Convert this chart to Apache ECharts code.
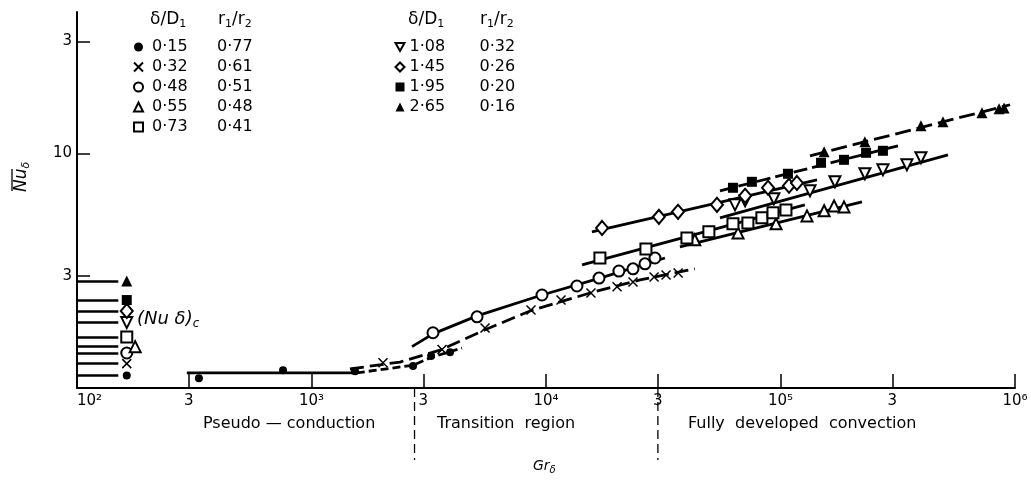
<!DOCTYPE html>
<html><head><meta charset="utf-8">
<script src="https://cdn.jsdelivr.net/npm/echarts@6/dist/echarts.min.js"></script>
<style>html,body{margin:0;padding:0;background:#fff}#c{width:1031px;height:481px}</style>
</head><body><div id="c"></div>
<script>
// ---------- axis ticks ----------
const xTickValues = [100, 300, 1000, 3000, 10000, 30000, 100000, 300000, 1000000];
const xTickLabels = ['10²', '3', '10³', '3', '10⁴', '3', '10⁵', '3', '10⁶'];
const yTickValues = [3, 10, 30];
const yTickLabels = ['3', '10', '3'];

// ---------- legend table ----------
const legendDelta = ['0·15', '0·32', '0·48', '0·55', '0·73', '1·08', '1·45', '1·95', '2·65'];
const legendRatio = ['0·77', '0·61', '0·51', '0·48', '0·41', '0·32', '0·26', '0·20', '0·16'];

// ---------- measured points (Gr_delta, Nu_delta) ----------
const grA = [331, 756, 1533, 2710, 3236, 3898];                 // ● 0·15
const nuA = [1.10, 1.19, 1.18, 1.24, 1.37, 1.42];
const grB = [2018, 3602, 5495, 8630, 11590, 15550, 20090, 23500, 28900, 32500, 36600]; // × 0·32
const nuB = [1.28, 1.46, 1.80, 2.15, 2.37, 2.54, 2.70, 2.83, 2.97, 3.03, 3.09];
const grC = [3296, 5082, 9616, 13550, 16830, 20460, 23500, 26430, 29150];   // ○ 0·48
const nuC = [1.72, 2.01, 2.49, 2.72, 2.94, 3.15, 3.22, 3.38, 3.58];
const grD = [43100, 65900, 95700, 129700, 153500, 169200, 186500];          // △ 0·55
const nuD = [4.28, 4.58, 5.01, 5.41, 5.69, 5.97, 5.91];
const grE = [16980, 26680, 39900, 49500, 62700, 72600, 83300, 92900, 105500]; // □ 0·73
const nuE = [3.58, 3.91, 4.36, 4.63, 5.01, 5.05, 5.31, 5.58, 5.74];
const grF = [63970, 70660, 93700, 133600, 170600, 229000, 273400, 346000, 397000]; // ▽ 1·08
const nuF = [6.03, 6.27, 6.40, 6.92, 7.56, 8.18, 8.50, 8.93, 9.57];
const grG = [17340, 30300, 36560, 53580, 70660, 88500, 108700, 117500];     // ◇ 1·45
const nuG = [4.81, 5.36, 5.63, 6.03, 6.59, 7.13, 7.27, 7.48];
const grH = [62700, 75500, 107600, 148900, 186500, 231700, 273400];         // ■ 1·95
const nuH = [7.13, 7.56, 8.18, 9.11, 9.38, 10.05, 10.25];
const grI = [153500, 229000, 397000, 493000, 723000, 855000, 898000];       // ▲ 2·65
const nuI = [10.15, 11.19, 13.10, 13.62, 14.89, 15.48, 15.6];

// ---------- fitted curves ----------
const fitA1 = [[294, 1.16], [1560, 1.16]];
const fitA2 = [[1560, 1.16], [2710, 1.25], [3236, 1.35], [4385, 1.48]];
const fitB = [[1459, 1.205], [2383, 1.29], [3532, 1.45], [5495, 1.77], [8550, 2.13], [15410, 2.54], [25180, 2.89], [43150, 3.22]];
const fitC = [[2683, 1.50], [3296, 1.70], [5082, 2.03], [9616, 2.49], [16980, 2.94], [32150, 3.58]];
const fitD = [[37240, 3.99], [222600, 6.21]];
const fitE = [[14250, 3.35], [127000, 6.03]];
const fitF = [[55200, 5.31], [518000, 9.85]];
const fitG = [[15700, 4.63], [143200, 7.71]];
const fitH = [[55200, 6.92], [317000, 10.76]];
const fitI = [[133600, 9.76], [953000, 16.1]];

// ---------- (Nu_delta)_c conduction limits ----------
const nuCond = [1.13, 1.27, 1.41, 1.50, 1.65, 1.90, 2.13, 2.37, 2.86];
const grCondMarker = [163, 163, 163, 177, 163, 163, 163, 163, 163];
const grCondStub = [100, 150];

// ---------- region dividers ----------
const dividerGr = [2750, 30000];

// ================= styles =================
const FONT = 'DejaVu Sans';
const hollow = { color: '#fff', borderColor: '#000', borderWidth: 2 };
const filled = { color: '#000', borderColor: '#000', borderWidth: 0 };
const downTri = 'path://M0,0L10,0L5,9Z';
const cross = 'path://M0,0L10,10M10,0L0,10';
const marks = [
  { gr: grA, nu: nuA, symbol: 'circle', size: 8, style: filled },
  { gr: grB, nu: nuB, symbol: cross, size: 9, style: { color: 'none', borderColor: '#000', borderWidth: 1.5 } },
  { gr: grC, nu: nuC, symbol: 'circle', size: 11, style: hollow },
  { gr: grD, nu: nuD, symbol: 'triangle', size: 11, style: hollow },
  { gr: grE, nu: nuE, symbol: 'rect', size: 11, style: hollow },
  { gr: grF, nu: nuF, symbol: downTri, size: 11, style: hollow },
  { gr: grG, nu: nuG, symbol: 'diamond', size: [12, 14], style: hollow },
  { gr: grH, nu: nuH, symbol: 'rect', size: 10, style: filled },
  { gr: grI, nu: nuI, symbol: 'triangle', size: 11, style: filled }
];
const fits = [
  { d: fitA1, type: 'solid' }, { d: fitA2, type: [8, 4] }, { d: fitB, type: [14, 6] },
  { d: fitC, type: 'solid' }, { d: fitD, type: 'solid' }, { d: fitE, type: 'solid' },
  { d: fitF, type: 'solid' }, { d: fitG, type: 'solid' }, { d: fitH, type: [14, 5] },
  { d: fitI, type: [16, 6] }
];

const names = legendDelta.map((d, i) => d + '|' + legendRatio[i]);
const series = [];
fits.forEach((f, i) => series.push({
  type: 'line', name: 'fit' + i, data: f.d, showSymbol: false, symbol: 'none', silent: true, z: 2,
  lineStyle: { color: '#000', width: 2.8, type: f.type }
}));
series.push({
  type: 'lines', coordinateSystem: 'cartesian2d', silent: true, z: 2,
  lineStyle: { color: '#000', width: 2.6, opacity: 1 },
  data: nuCond.map(v => ({ coords: [[grCondStub[0], v], [grCondStub[1], v]] }))
});
marks.forEach((m, i) => {
  series.push({
    type: 'scatter', name: names[i], symbol: m.symbol, symbolSize: m.size, silent: true, z: 5,
    itemStyle: Object.assign({ opacity: 1 }, m.style),
    data: m.gr.map((g, k) => [g, m.nu[k]]).concat([[grCondMarker[i], nuCond[i]]])
  });
});

function legendCfg(idx, left, pad, w) {
  return {
    orient: 'vertical', left: left, top: 32, itemWidth: 9, itemHeight: 9, itemGap: 0,
    selectedMode: false, data: idx.map(i => names[i]),
    textStyle: {
      fontFamily: FONT, fontSize: 16, color: '#000', lineHeight: 20,
      rich: { a: { width: w, padding: [0, 0, 0, pad], fontFamily: FONT, fontSize: 16, color: '#000' },
              b: { fontFamily: FONT, fontSize: 16, color: '#000' } }
    },
    formatter: n => { const p = n.split('|'); return '{a|' + p[0] + '}{b|' + p[1] + '}'; }
  };
}

const xFmt = v => {
  const i = xTickValues.findIndex(t => Math.abs(Math.log10(t) - Math.log10(v)) < 1e-6);
  return i >= 0 ? xTickLabels[i] : '';
};
const yFmt = v => {
  const i = yTickValues.findIndex(t => Math.abs(Math.log10(t) - Math.log10(v)) < 1e-6);
  return i >= 0 ? yTickLabels[i] : '';
};

const option = {
  animation: false,
  backgroundColor: '#fff',
  grid: { left: 77, right: 16, top: 12, bottom: 93 },
  xAxis: {
    type: 'log', logBase: 10, min: 100, max: 1000000,
    axisLine: { lineStyle: { color: '#000', width: 2 } },
    axisTick: { inside: true, length: 14, lineStyle: { color: '#000', width: 1.5 }, customValues: xTickValues.slice(1) },
    axisLabel: { customValues: xTickValues, formatter: xFmt, margin: 6, color: '#000', fontFamily: FONT, fontSize: 15, alignMinLabel: 'left' },
    splitLine: { show: false }, minorTick: { show: false }
  },
  yAxis: {
    type: 'log', logBase: 10, min: 1, max: 40,
    axisLine: { lineStyle: { color: '#000', width: 2 } },
    axisTick: { inside: true, length: 13, lineStyle: { color: '#000', width: 1.5 }, customValues: yTickValues },
    axisLabel: { customValues: yTickValues, formatter: yFmt, margin: 5, color: '#000', fontFamily: FONT, fontSize: 15 },
    splitLine: { show: false }, minorTick: { show: false }
  },
  legend: [legendCfg([0, 1, 2, 3, 4], 126.5, 4, 65), legendCfg([5, 6, 7, 8], 389.5, 0, 70)],
  series: series
};

const chart = echarts.init(document.getElementById('c'), null, { renderer: 'canvas' });
chart.setOption(option);

// annotations positioned through the axis scales
const px = (g, n) => chart.convertToPixel({ xAxisIndex: 0, yAxisIndex: 0 }, [g, n]);
const axisY = px(100, 1)[1];
const graphics = [];
dividerGr.forEach(g => {
  const x = px(g, 1)[0];
  graphics.push({ type: 'line', silent: true, shape: { x1: x, y1: axisY, x2: x, y2: axisY + 72 },
    style: { stroke: '#000', lineWidth: 1.3, lineDash: [9, 5] } });
});
const txt = (x, y, text, extra) => graphics.push({ type: 'text', silent: true, x: x, y: y,
  style: Object.assign({ text: text, fill: '#000', font: '16px "' + FONT + '"', textAlign: 'left', textVerticalAlign: 'middle' }, extra || {}) });

// legend headers
const hdrRich = { s: { fontSize: 11, fontFamily: FONT, fill: '#000', padding: [8, 0, 0, 0] }, n: { fontSize: 17, fontFamily: FONT, fill: '#000' } };
txt(150, 20, '{n|δ/D}{s|1}', { rich: hdrRich });
txt(218, 20, '{n|r}{s|1}{n|/r}{s|2}', { rich: hdrRich });
txt(408, 20, '{n|δ/D}{s|1}', { rich: hdrRich });
txt(480, 20, '{n|r}{s|1}{n|/r}{s|2}', { rich: hdrRich });

// region labels
txt(203, 424, 'Pseudo — conduction', { font: '16px "' + FONT + '"' });
txt(437, 424, 'Transition  region', { font: '16px "' + FONT + '"' });
txt(688, 424, 'Fully  developed  convection', { font: '16px "' + FONT + '"' });

// (Nu delta)_c
txt(137, 319, '{n|(Nu δ)}{s|c}', { rich: {
  n: { fontSize: 18, fontStyle: 'italic', fontFamily: FONT, fill: '#000' },
  s: { fontSize: 12, fontStyle: 'italic', fontFamily: FONT, fill: '#000', padding: [10, 0, 0, 0] } } });

// x axis name
txt(533, 466, '{n|Gr}{s|δ}', { rich: {
  n: { fontSize: 14, fontStyle: 'italic', fontFamily: FONT, fill: '#000' },
  s: { fontSize: 10, fontStyle: 'italic', fontFamily: FONT, fill: '#000', padding: [8, 0, 0, 0] } } });

// y axis name (rotated)
graphics.push({ type: 'group', x: 22, y: 192, rotation: Math.PI / 2, silent: true, children: [
  { type: 'text', x: 0, y: 0, style: { text: '{n|Nu}{s|δ}', textAlign: 'left', textVerticalAlign: 'middle', fill: '#000',
    rich: { n: { fontSize: 17, fontStyle: 'italic', fontFamily: FONT, fill: '#000' },
            s: { fontSize: 11, fontStyle: 'italic', fontFamily: FONT, fill: '#000', padding: [9, 0, 0, 0] } } } },
  { type: 'line', shape: { x1: 1, y1: -10, x2: 23, y2: -10 }, style: { stroke: '#000', lineWidth: 1.3 } }
] });

chart.setOption({ graphic: { elements: graphics } });
</script>
</body></html>
